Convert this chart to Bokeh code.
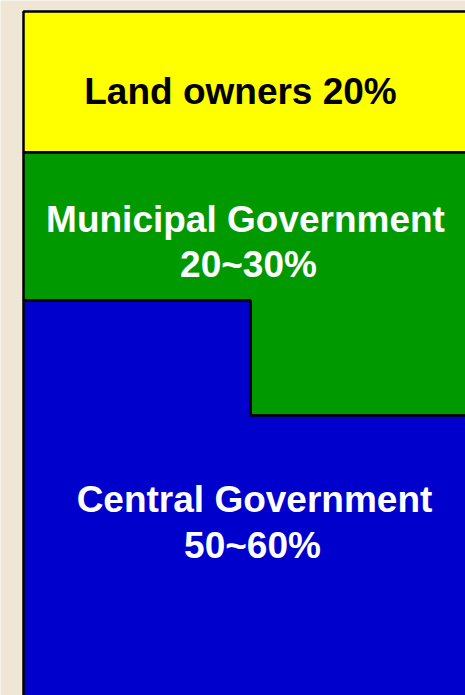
from bokeh.plotting import figure
from bokeh.models import Range1d, ColumnDataSource
from bokeh.core.properties import value
from bokeh.embed import file_html
from bokeh.resources import INLINE

# Data
stakeholders = ["Land owners", "Municipal Government", "Central Government"]
shares = ["20%", "20~30%", "50~60%"]
colors = ["#FFFF00", "#009900", "#0000CC"]

W, H = 465, 695
p = figure(width=W, height=H, output_backend="svg", toolbar_location=None,
           x_range=Range1d(0, W), y_range=Range1d(H, 0), min_border=0)
p.axis.visible = False
p.grid.visible = False
p.outline_line_color = None
p.background_fill_color = "#EFE6D5"
p.border_fill_color = "#EFE6D5"

# Layout geometry (pixel coordinates of the diagram blocks)
L, T, R, B = 23, 11, 475, 705
y1, y2, y3, xs = 152, 300, 415, 250
polys_x = [
    [L, R, R, L],
    [L, R, R, xs, xs, L],
    [L, xs, xs, R, R, L],
]
polys_y = [
    [T, T, y1, y1],
    [y1, y1, y3, y3, y2, y2],
    [y2, y2, y3, y3, B, B],
]
p.patches(xs=polys_x, ys=polys_y, fill_color=colors, line_color="black", line_width=2.5)

# Labels
lx = [240, 245, 248, 254, 252]
ly = [91, 219, 264, 499, 545]
texts = [stakeholders[0] + " " + shares[0], stakeholders[1], shares[1], stakeholders[2], shares[2]]
tcol = ["black", "white", "white", "white", "white"]
src = ColumnDataSource(dict(x=lx, y=ly, t=texts, c=tcol))
p.text(x="x", y="y", text="t", text_color="c", source=src,
       text_font=value("Liberation Sans"), text_font_style="bold",
       text_font_size="37px", text_align="center", text_baseline="alphabetic")

open("out.html", "w").write(file_html(p, INLINE))
